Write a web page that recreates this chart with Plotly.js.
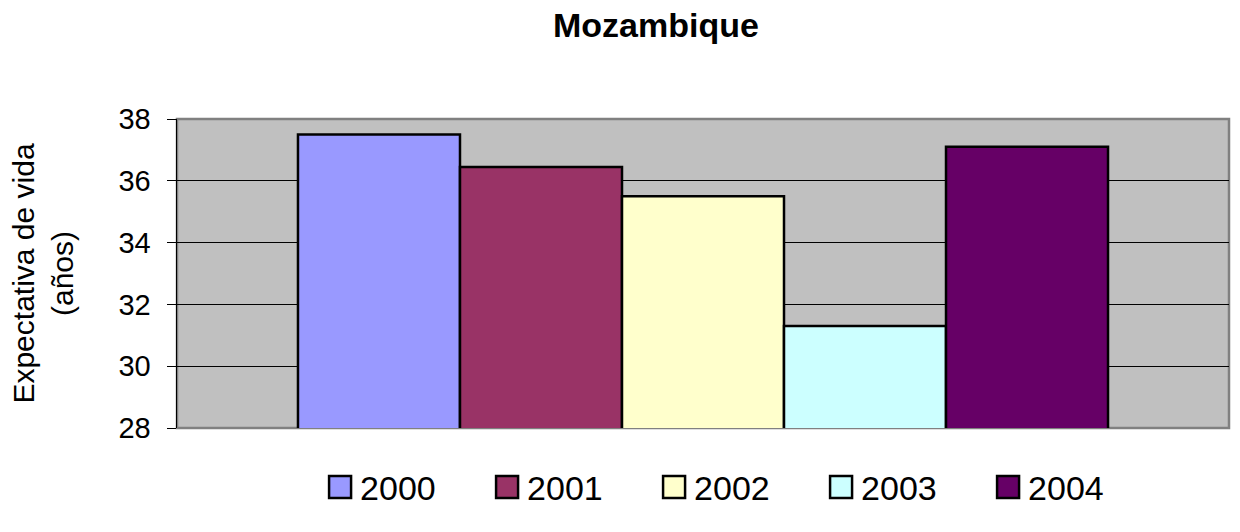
<!DOCTYPE html>
<html><head><meta charset="utf-8">
<script src="https://cdn.plot.ly/plotly-3.0.1.min.js"></script>
<style>body{margin:0;background:#fff}#chart{width:1240px;height:532px}</style>
</head><body><div id="chart"></div>
<script>
const category = ['Mozambique'];
const years = ['2000', '2001', '2002', '2003', '2004'];
const lifeExpectancy = [37.5, 36.45, 35.5, 31.3, 37.1];
const colors = ['#9999FF', '#993366', '#FFFFCC', '#CCFFFF', '#660066'];
const yTicks = [28, 30, 32, 34, 36, 38];

const traces = years.map((y, i) => ({
  type: 'bar', name: y, x: category, y: [lifeExpectancy[i]],
  marker: {color: colors[i], line: {color: '#000', width: 2.5}},
  hoverinfo: 'name+y'
}));

const layout = {
  width: 1240, height: 532,
  margin: {l: 176.5, r: 11, t: 119, b: 103.5},
  paper_bgcolor: '#fff', plot_bgcolor: '#C0C0C0',
  font: {family: 'Liberation Sans, Arial, sans-serif', color: '#000'},
  title: {text: '<b>Mozambique</b>', font: {size: 34}, x: 0.529, xanchor: 'center', y: 0.953, yanchor: 'middle'},
  barmode: 'group', bargap: 0.23, bargroupgap: 0,
  showlegend: true,
  legend: {orientation: 'h', x: 0.136, xanchor: 'left', y: -0.192, yanchor: 'middle',
           font: {size: 34}, entrywidth: 122, entrywidthmode: 'pixels', itemwidth: 30,
           bgcolor: 'rgba(0,0,0,0)'},
  shapes: [{type: 'rect', xref: 'paper', yref: 'paper', x0: 0, x1: 1, y0: 0, y1: 1,
            line: {color: '#808080', width: 2.5}, layer: 'below'}],
  xaxis: {showticklabels: false, ticks: '', showgrid: false, zeroline: false,
          showline: false, fixedrange: true},
  yaxis: {range: [28, 38], tickvals: yTicks, ticktext: yTicks.map(String),
          ticks: 'outside', ticklen: 9, tickcolor: '#000', tickwidth: 1, ticklabelstandoff: 10,
          tickfont: {size: 29}, showgrid: true, gridcolor: '#000', gridwidth: 1,
          zeroline: false, showline: true, linecolor: '#000', linewidth: 1.5, mirror: false,
          title: {text: 'Expectativa de vida<br>(años)', font: {size: 30}, standoff: 36}}
};

Plotly.newPlot('chart', traces, layout, {displayModeBar: false, staticPlot: true}).then(() => {
  document.querySelectorAll('#chart .legendpoints path').forEach(p => {
    p.setAttribute('d', 'M11,11H-11V-11H11Z');
  });
});
</script></body></html>
